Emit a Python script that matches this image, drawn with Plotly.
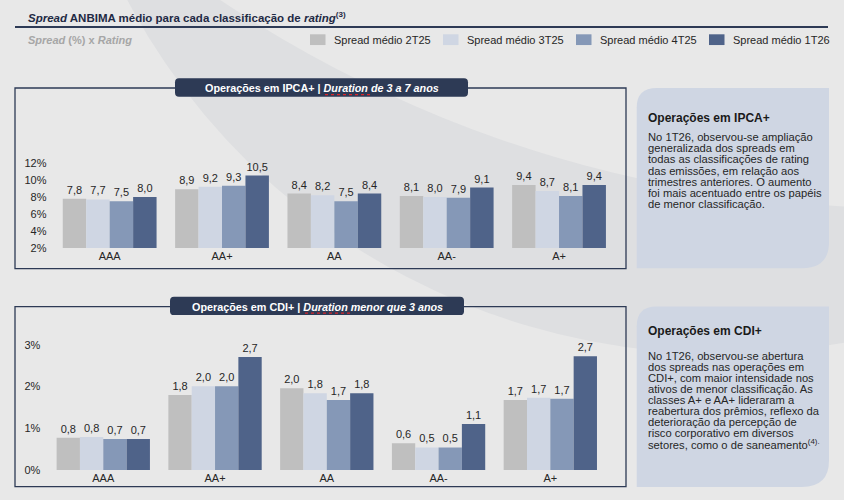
import plotly.graph_objects as go

W, H = 844, 500
def X(px): return px / W
def Y(py): return 1 - py / H

categories = ["AAA", "AA+", "AA", "AA-", "A+"]
series_names = ["Spread médio 2T25", "Spread médio 3T25", "Spread médio 4T25", "Spread médio 1T26"]
series_colors = ["#bfbfbf", "#cfd6e3", "#8598b7", "#4f6389"]

ipca_2t25 = [7.8, 8.9, 8.4, 8.1, 9.4]
ipca_3t25 = [7.7, 9.2, 8.2, 8.0, 8.7]
ipca_4t25 = [7.5, 9.3, 7.5, 7.9, 8.1]
ipca_1t26 = [8.0, 10.5, 8.4, 9.1, 9.4]

cdi_2t25 = [0.77, 1.80, 1.96, 0.64, 1.68]
cdi_3t25 = [0.79, 2.01, 1.84, 0.54, 1.73]
cdi_4t25 = [0.74, 2.01, 1.68, 0.54, 1.71]
cdi_1t26 = [0.74, 2.71, 1.84, 1.10, 2.73]

ipca_ticks = [2, 4, 6, 8, 10, 12]
cdi_ticks = [0, 1, 2, 3]

FONT = "Liberation Sans, Arial, sans-serif"
NAVY = "#2d3a55"
TXT = "#262626"

fig = go.Figure()
ipca = [ipca_2t25, ipca_3t25, ipca_4t25, ipca_1t26]
cdi = [cdi_2t25, cdi_3t25, cdi_4t25, cdi_1t26]
for vals, name, col in zip(ipca, series_names, series_colors):
    fig.add_bar(x=categories, y=vals, name=name, marker=dict(color=col, line_width=0),
                texttemplate="%{y:.1f}", textposition="outside", cliponaxis=False,
                textfont=dict(size=11, color=TXT, family=FONT), xaxis="x", yaxis="y",
                hoverinfo="skip", showlegend=False)
for vals, name, col in zip(cdi, series_names, series_colors):
    fig.add_bar(x=categories, y=vals, name=name, marker=dict(color=col, line_width=0),
                texttemplate="%{y:.1f}", textposition="outside", cliponaxis=False,
                textfont=dict(size=11, color=TXT, family=FONT), xaxis="x2", yaxis="y2",
                hoverinfo="skip", showlegend=False)

ax_common = dict(showgrid=False, zeroline=False, showline=False, ticks="",
                 tickfont=dict(size=11, color=TXT, family=FONT), fixedrange=True)

shapes = []
shapes.append(dict(type="circle", xref="paper", yref="paper", layer="below",
                   x0=X(53.4), x1=X(1389.4), y0=Y(356.4), y1=Y(-979.6),
                   fillcolor="#dedfe1", line_width=0))
shapes.append(dict(type="circle", xref="paper", yref="paper", layer="below",
                   x0=X(-308), x1=X(2124), y0=Y(207), y1=Y(-2225),
                   fillcolor="#e8e8e8", line_width=0))
shapes.append(dict(type="line", xref="paper", yref="paper", x0=X(15), x1=X(828),
                   y0=Y(21.5), y1=Y(21.5), line=dict(color=NAVY, width=2)))

def rbox(x0, y0, x1, y1, rtl, rtr, rbr, rbl):
    p = f"M{X(x0+rtl)},{Y(y0)} L{X(x1-rtr)},{Y(y0)} Q{X(x1)},{Y(y0)} {X(x1)},{Y(y0+rtr)} "
    p += f"L{X(x1)},{Y(y1-rbr)} Q{X(x1)},{Y(y1)} {X(x1-rbr)},{Y(y1)} "
    p += f"L{X(x0+rbl)},{Y(y1)} Q{X(x0)},{Y(y1)} {X(x0)},{Y(y1-rbl)} "
    p += f"L{X(x0)},{Y(y0+rtl)} Q{X(x0)},{Y(y0)} {X(x0+rtl)},{Y(y0)} Z"
    return p

for (y0, y1) in [(84, 269), (308, 492.5)]:
    shapes.append(dict(type="rect", xref="paper", yref="paper", x0=X(15), x1=X(626),
                       y0=Y(y0), y1=Y(y1), line=dict(color=NAVY, width=1.3),
                       fillcolor="rgba(0,0,0,0)"))
for (x0, y0, x1, y1) in [(175, 74, 468, 93), (170, 298, 464, 316.7)]:
    shapes.append(dict(type="path", xref="paper", yref="paper", path=rbox(x0, y0, x1, y1, 4, 4, 4, 4),
                       fillcolor=NAVY, line_width=0))
for (y0, y1) in [(84, 268.7), (308, 492.7)]:
    shapes.append(dict(type="path", xref="paper", yref="paper", path=rbox(636.7, y0, 829, y1, 20, 0, 27, 0),
                       fillcolor="#cfd6e3", line_width=0))

leg_sw = [310, 443, 576, 709]
annotations = []
for sx, name, col in zip(leg_sw, series_names, series_colors):
    shapes.append(dict(type="rect", xref="paper", yref="paper", x0=X(sx), x1=X(sx + 15.5),
                       y0=Y(29), y1=Y(40), fillcolor=col, line_width=0))
    annotations.append(dict(x=X(sx + 22), y=Y(34.5), xref="paper", yref="paper", text=name,
                            showarrow=False, xanchor="left", yanchor="middle",
                            font=dict(size=11, color=TXT, family=FONT)))

def ann(x, y, text, size=11, color=TXT, xanchor="left"):
    annotations.append(dict(x=X(x), y=Y(y), xref="paper", yref="paper", text=text,
                            showarrow=False, xanchor=xanchor, yanchor="middle",
                            font=dict(size=size, color=color, family=FONT)))

ann(26, 11.5, "<b><i>Spread</i> ANBIMA médio para cada classificação de <i>rating</i><sup>(3)</sup></b>", 11.5, "#1f2a44")
ann(26, 35, "<b><i>Spread</i> (%) x <i>Rating</i></b>", 11, "#a6a6a6")
ann(321.5, 84.5, "<b>Operações em IPCA+ | <i>Duration de 3 a 7 anos</i></b>", 10.8, "white", "center")
ann(317, 308, "<b>Operações em CDI+ | <i>Duration menor que 3 anos</i></b>", 10.8, "white", "center")
# spell-check style red dotted underline below "Duration"
for (ux0, ux1, uy) in [(325, 372, 90.8), (305, 351.5, 314.6)]:
    shapes.append(dict(type="line", xref="paper", yref="paper", x0=X(ux0), x1=X(ux1),
                       y0=Y(uy), y1=Y(uy), line=dict(color="#d9262b", width=1.2, dash="dot")))

box1_title = "Operações em IPCA+"
box1_lines = ["No 1T26, observou-se ampliação",
              "generalizada dos spreads em",
              "todas as classificações de rating",
              "das emissões, em relação aos",
              "trimestres anteriores. O aumento",
              "foi mais acentuado entre os papéis",
              "de menor classificação."]
box2_title = "Operações em CDI+"
box2_lines = ["No 1T26, observou-se abertura",
              "dos spreads nas operações em",
              "CDI+, com maior intensidade nos",
              "ativos de menor classificação. As",
              "classes A+ e AA+ lideraram a",
              "reabertura dos prêmios, reflexo da",
              "deterioração da percepção de",
              "risco corporativo em diversos",
              "setores, como o de saneamento<sup>(4).</sup>"]

ann(646, 114.5, f"<b>{box1_title}</b>", 12, "#1a1a1a")
for i, ln in enumerate(box1_lines):
    ann(646, 134.5 + i * 11.35, ln, 11.2)
ann(646, 333, f"<b>{box2_title}</b>", 12, "#1a1a1a")
for i, ln in enumerate(box2_lines):
    ann(646, 358.3 + i * 11.35, ln, 11.2)

fig.update_layout(
    width=W, height=H, margin=dict(l=0, r=0, t=0, b=0),
    paper_bgcolor="#e8e8e8", plot_bgcolor="rgba(0,0,0,0)",
    barmode="group", bargap=0.165, bargroupgap=0,
    separators=",.", font=dict(family=FONT, color=TXT),
    showlegend=False, shapes=shapes, annotations=annotations,
    xaxis=dict(domain=[X(53.5), X(615.2)], anchor="y", **ax_common),
    yaxis=dict(domain=[Y(248), Y(160.7)], range=[2, 12], tickmode="array", tickvals=ipca_ticks,
               ticktext=[f"{v}%" for v in ipca_ticks], ticklabelstandoff=6, anchor="x", **ax_common),
    xaxis2=dict(domain=[X(47.4), X(606.2)], anchor="y2", **ax_common),
    yaxis2=dict(domain=[Y(475.3), Y(347.3)], range=[0, 3], tickmode="array", tickvals=cdi_ticks,
                ticktext=[f"{v}%" for v in cdi_ticks], ticklabelstandoff=6, anchor="x2", **ax_common),
)
fig.write_html("out.html")
